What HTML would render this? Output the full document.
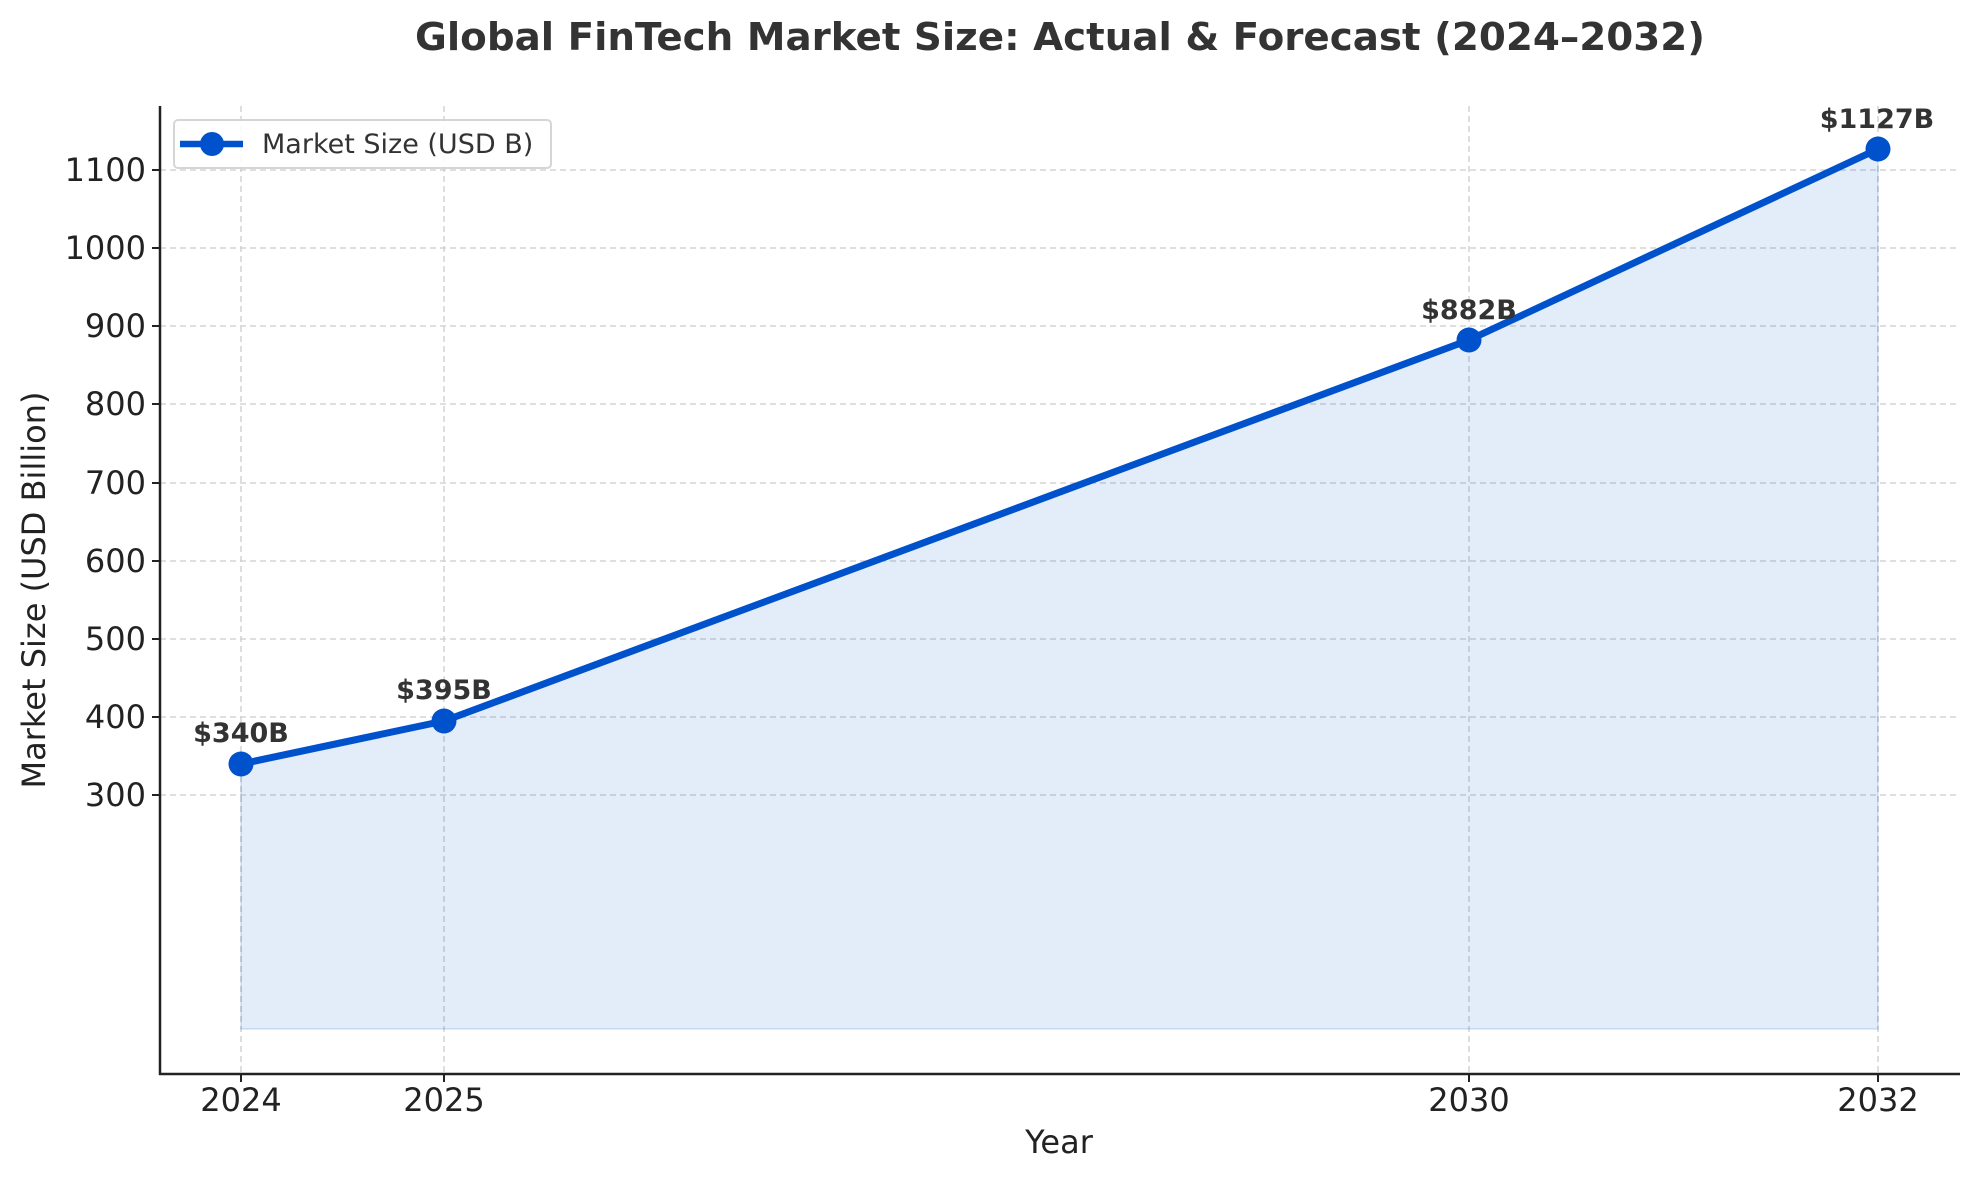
<!DOCTYPE html>
<html><head><meta charset="utf-8"><style>html,body{margin:0;padding:0;background:#fff}</style></head>
<body>
<svg width="1979" height="1180" xmlns="http://www.w3.org/2000/svg" font-family="DejaVu Sans, Liberation Sans, sans-serif">
<rect width="1979" height="1180" fill="#fff"/>
<text x="1060" y="50" text-anchor="middle" font-size="38" font-weight="bold" fill="#333" textLength="1290" lengthAdjust="spacingAndGlyphs">Global FinTech Market Size: Actual &amp; Forecast (2024–2032)</text>
<g stroke="#ccc" stroke-width="1.3" stroke-dasharray="6,4">
<line x1="160" x2="1960" y1="170" y2="170"/>
<line x1="160" x2="1960" y1="248" y2="248"/>
<line x1="160" x2="1960" y1="326" y2="326"/>
<line x1="160" x2="1960" y1="404" y2="404"/>
<line x1="160" x2="1960" y1="483" y2="483"/>
<line x1="160" x2="1960" y1="561" y2="561"/>
<line x1="160" x2="1960" y1="639" y2="639"/>
<line x1="160" x2="1960" y1="717" y2="717"/>
<line x1="160" x2="1960" y1="795" y2="795"/>
<line x1="241" x2="241" y1="106" y2="1074"/>
<line x1="444" x2="444" y1="106" y2="1074"/>
<line x1="1469" x2="1469" y1="106" y2="1074"/>
<line x1="1878" x2="1878" y1="106" y2="1074"/>
</g>
<polygon points="241,764 444,721 1469,340 1878,149 1878,1029 241,1029" fill="#0052cc" fill-opacity="0.11" stroke="#0052cc" stroke-opacity="0.12" stroke-width="2"/>
<polyline points="241,764 444,721 1469,340 1878,149" fill="none" stroke="#0052cc" stroke-width="7" stroke-linejoin="round"/>
<g fill="#0052cc">
<circle cx="241" cy="764" r="12.5"/><circle cx="444" cy="721" r="12.5"/><circle cx="1469" cy="340" r="12.5"/><circle cx="1878" cy="149" r="12.5"/>
</g>
<g font-size="27" font-weight="bold" fill="#333" text-anchor="middle">
<text x="241" y="742">$340B</text>
<text x="444" y="699">$395B</text>
<text x="1469" y="319">$882B</text>
<text x="1877" y="128">$1127B</text>
</g>
<g stroke="#222" stroke-width="2.5">
<line x1="160" y1="106" x2="160" y2="1075"/>
<line x1="159" y1="1074" x2="1960" y2="1074"/>
</g>
<g stroke="#222" stroke-width="2">
<line x1="152" x2="160" y1="170" y2="170"/><line x1="152" x2="160" y1="248" y2="248"/><line x1="152" x2="160" y1="326" y2="326"/><line x1="152" x2="160" y1="404" y2="404"/><line x1="152" x2="160" y1="483" y2="483"/><line x1="152" x2="160" y1="561" y2="561"/><line x1="152" x2="160" y1="639" y2="639"/><line x1="152" x2="160" y1="717" y2="717"/><line x1="152" x2="160" y1="795" y2="795"/>
<line x1="241" x2="241" y1="1074" y2="1082"/><line x1="444" x2="444" y1="1074" y2="1082"/><line x1="1469" x2="1469" y1="1074" y2="1082"/><line x1="1878" x2="1878" y1="1074" y2="1082"/>
</g>
<g font-size="32" fill="#222" text-anchor="end">
<text x="146" y="181">1100</text><text x="146" y="259">1000</text><text x="146" y="337">900</text><text x="146" y="415">800</text><text x="146" y="494">700</text><text x="146" y="572">600</text><text x="146" y="650">500</text><text x="146" y="728">400</text><text x="146" y="806">300</text>
</g>
<g font-size="32" fill="#222" text-anchor="middle">
<text x="241" y="1111">2024</text><text x="444" y="1111">2025</text><text x="1469" y="1111">2030</text><text x="1878" y="1111">2032</text>
<text x="1059" y="1153">Year</text>
<text transform="translate(45,590) rotate(-90)">Market Size (USD Billion)</text>
</g>
<rect x="174" y="120" width="377" height="48" rx="4" fill="#fff" fill-opacity="0.85" stroke="#d5d5d5" stroke-width="2"/>
<line x1="180" x2="243" y1="144" y2="144" stroke="#0052cc" stroke-width="6.5"/>
<circle cx="212" cy="144" r="12" fill="#0052cc"/>
<text x="262" y="153" font-size="27" fill="#333">Market Size (USD B)</text>
</svg>
</body></html>
